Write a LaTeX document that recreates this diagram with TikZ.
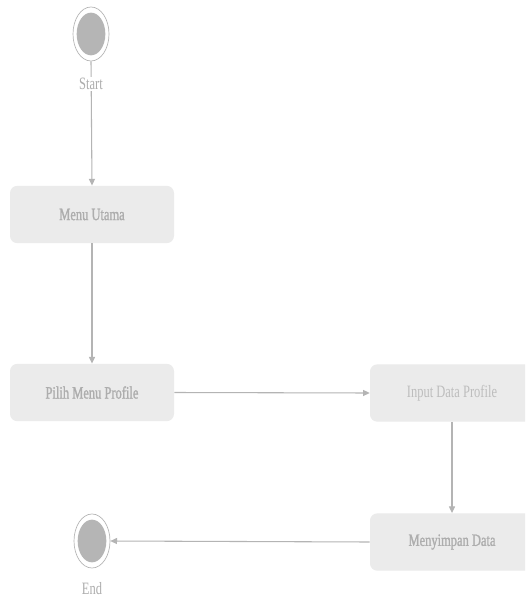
\documentclass[tikz,border=0pt]{standalone}
\usepackage{fontspec}
\setmainfont{Liberation Serif}
\newfontfamily\condfont[FakeStretch=0.72]{Liberation Serif}
\newfontfamily\condbold[FakeStretch=0.72,FakeBold=1.2]{Liberation Serif}
\usetikzlibrary{shapes.geometric,arrows.meta}
\definecolor{boxfill}{HTML}{EBEBEB}
\definecolor{linegray}{HTML}{B4B4B4}
\definecolor{txtgray}{HTML}{ADADAD}
\definecolor{txtlight}{HTML}{BDBDBD}
\definecolor{dotgray}{HTML}{B5B5B5}
\tikzset{
  actbox/.style={rectangle, rounded corners=5.5pt, fill=boxfill, draw=none,
    minimum width=123pt, minimum height=43pt, inner sep=0pt,
    font=\condbold\fontsize{13}{15}\selectfont, text=txtgray},
  actlight/.style={actbox, font=\condfont\fontsize{13}{15}\selectfont, text=txtlight},
  outerdot/.style={ellipse, draw=linegray, line width=0.5pt, fill=white,
    minimum width=27pt, minimum height=40.5pt, inner sep=0pt},
  innerdot/.style={ellipse, fill=dotgray, draw=none,
    minimum width=21.5pt, minimum height=32pt, inner sep=0pt},
  lbl/.style={font=\condfont\fontsize{13}{15}\selectfont, text=txtgray, fill=white, inner sep=1pt},
  flow/.style={draw=linegray, line width=0.8pt, -{Triangle[width=4.5pt,length=5pt]}}
}
\begin{document}
\begin{tikzpicture}[x=0.75pt,y=-0.75pt]
\clip (0,0) rectangle (525,598);
\fill[white] (0,0) rectangle (525,598);
% start
\node[outerdot] (start) at (91,34) {};
\node[innerdot] at (91,34) {};
% end
\node[outerdot] (end) at (92,541) {};
\node[innerdot] at (92,541) {};
% activities
\node[actbox] (menu) at (92,214.5) {Menu Utama};
\node[actbox] (pilih) at (92,392.5) {Pilih Menu Profile};
\node[actlight] (input) at (452,393) {Input Data Profile};
\node[actbox] (simpan) at (452,542) {Menyimpan Data};
% connectors
\draw[flow] (start.south) -- (menu.north);
\draw[flow] (menu.south) -- (pilih.north);
\draw[flow] (pilih.east) -- (input.west);
\draw[flow] (input.south) -- (simpan.north);
\draw[flow] (simpan.west) -- (end.east);
% labels
\node[lbl] (startlbl) at (91,84) {Start};
\node[lbl, fill=none] (endlbl) at (92,589) {End};
\end{tikzpicture}
\end{document}
